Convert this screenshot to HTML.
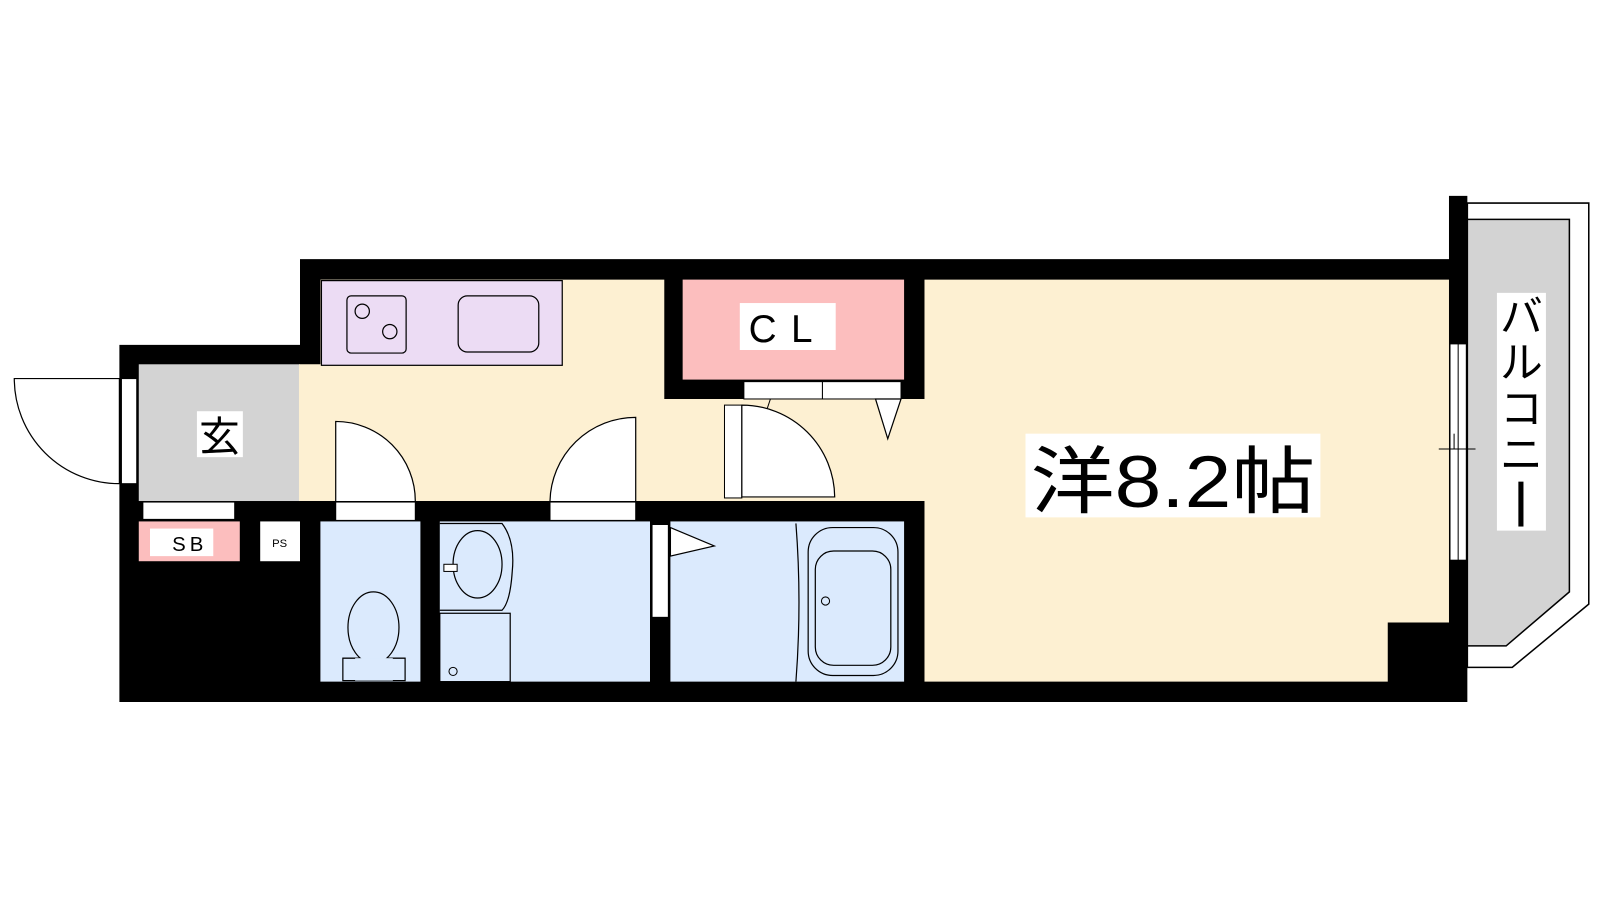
<!DOCTYPE html>
<html><head><meta charset="utf-8"><style>
html,body{margin:0;padding:0;background:#fff;}
svg{display:block}
text{font-family:"Liberation Sans","Noto Sans CJK JP",sans-serif;}
</style></head><body>
<svg width="1600" height="900" viewBox="0 0 1568 882" preserveAspectRatio="none" xmlns="http://www.w3.org/2000/svg">
<rect width="1568" height="882" fill="#fff"/>
<!-- balcony -->
<polygon points="1438,199 1557,199 1557,592 1482,654 1438,654" fill="#fff" stroke="#000" stroke-width="1.5"/>
<polygon points="1438,215 1538,215 1538,580 1476,633 1438,633" fill="#d3d3d3" stroke="#000" stroke-width="1.5"/>
<!-- walls -->
<polygon points="117,338 294,338 294,254 1420,254 1420,192 1438,192 1438,688 117,688" fill="#000"/>
<!-- genkan -->
<rect x="136" y="357" width="158" height="134" fill="#d3d3d3"/>
<!-- hallway / kitchen -->
<polygon points="293,357 314,357 314,274 651,274 651,391 907,391 907,491 293,491" fill="#fdf0d2"/>
<!-- CL -->
<rect x="669" y="274" width="217" height="98" fill="#fcbebe"/>
<rect x="729" y="374" width="77" height="17" fill="#fff" stroke="#000" stroke-width="1"/>
<rect x="806" y="374" width="77" height="17" fill="#fff" stroke="#000" stroke-width="1"/>
<polygon points="858,391 883,391 870,430" fill="#fff" stroke="#000" stroke-width="1.2"/>
<!-- main room -->
<polygon points="906,274 1420,274 1420,610 1360,610 1360,668 906,668" fill="#fdf0d2"/>
<!-- window right -->
<rect x="1421" y="337" width="16" height="212" fill="#fff" stroke="#000" stroke-width="1"/>
<line x1="1429" y1="337" x2="1429" y2="549" stroke="#000" stroke-width="1"/>
<line x1="1410" y1="440" x2="1446" y2="440" stroke="#000" stroke-width="1"/>
<line x1="1425" y1="440" x2="1425" y2="425" stroke="#000"/>
<!-- kitchen counter -->
<rect x="315" y="275" width="236" height="83" fill="#ecdcf4" stroke="#000" stroke-width="1.2"/>
<rect x="340" y="290" width="58" height="56" rx="4" fill="none" stroke="#000" stroke-width="1.2"/>
<circle cx="355" cy="305" r="7" fill="none" stroke="#000" stroke-width="1.2"/>
<circle cx="382" cy="325" r="7" fill="none" stroke="#000" stroke-width="1.2"/>
<rect x="449" y="290" width="79" height="55" rx="9" fill="none" stroke="#000" stroke-width="1.2"/>
<!-- bathrooms -->
<rect x="314" y="511" width="98" height="157" fill="#dbeafd"/>
<rect x="431" y="511" width="206" height="157" fill="#dbeafd"/>
<rect x="657" y="511" width="229" height="157" fill="#dbeafd"/>
<!-- SB PS -->
<rect x="136" y="511" width="99" height="39" fill="#fcbebe"/>
<rect x="255" y="511" width="39" height="39" fill="#fff"/>
<rect x="140" y="492" width="90" height="17" fill="#fff" stroke="#000" stroke-width="1"/>
<!-- entrance door -->
<rect x="119" y="371" width="15" height="103" fill="#fff" stroke="#000" stroke-width="1"/>
<path d="M14,371 A103,103 0 0 0 117,474 L117,371 Z" fill="#fff" stroke="#000" stroke-width="1.2"/>
<!-- door openings in wall -->
<rect x="329" y="492" width="78" height="18" fill="#fff" stroke="#000" stroke-width="1"/>
<rect x="539" y="492" width="84" height="18" fill="#fff" stroke="#000" stroke-width="1"/>
<path d="M329,491 L329,413 A78,78 0 0 1 407,491" fill="#fff" stroke="#000" stroke-width="1.2"/>
<path d="M623,491 L623,409 A84,84 0 0 0 539,491" fill="#fff" stroke="#000" stroke-width="1.2"/>
<!-- corridor door -->
<rect x="710" y="397" width="17" height="91" fill="#fff" stroke="#000" stroke-width="1"/>
<path d="M727,487 L727,397 A91,91 0 0 1 818,487 Z" fill="#fff" stroke="#000" stroke-width="1.2"/>
<line x1="755" y1="391" x2="752" y2="400" stroke="#000"/>
<!-- toilet -->
<rect x="336" y="645" width="61" height="22" fill="none" stroke="#000" stroke-width="1.2"/>
<ellipse cx="366" cy="615" rx="25" ry="35" fill="#dbeafd" stroke="#000" stroke-width="1.2"/>
<rect x="348" y="645" width="37" height="22" fill="#dbeafd"/>
<path d="M336,645 H348 M385,645 H397" stroke="#000"/>
<!-- wash -->
<path d="M431,513 H492 Q505,530 502,560 Q500,590 492,598 H431" fill="none" stroke="#000" stroke-width="1.2"/>
<ellipse cx="468" cy="553" rx="24" ry="33" fill="none" stroke="#000" stroke-width="1.2"/>
<rect x="435" y="553" width="13" height="7" fill="#fff" stroke="#000"/>
<rect x="431" y="601" width="69" height="67" fill="none" stroke="#000" stroke-width="1.2"/>
<circle cx="444" cy="658" r="4" fill="none" stroke="#000"/>
<!-- bath door -->
<rect x="639" y="514" width="16" height="91" fill="#fff" stroke="#000" stroke-width="1"/>
<polygon points="657,517 700,535 657,545" fill="#fff" stroke="#000" stroke-width="1.2"/>
<!-- bath -->
<path d="M780,513 Q786,590 780,668" fill="none" stroke="#000" stroke-width="1.2"/>
<rect x="792" y="517" width="88" height="145" rx="24" fill="none" stroke="#000" stroke-width="1.2"/>
<rect x="799" y="540" width="74" height="112" rx="18" fill="none" stroke="#000" stroke-width="1.2"/>
<circle cx="809" cy="589" r="4" fill="none" stroke="#000"/>
<!-- labels -->
<rect x="193" y="403" width="45" height="45" fill="#fff"/>
<text x="215" y="442" font-size="40" text-anchor="middle">玄</text>
<rect x="147" y="518" width="62" height="27" fill="#fff"/>
<text x="186" y="540" font-size="20" text-anchor="middle" letter-spacing="4">SB</text>
<text x="274" y="536" font-size="11" text-anchor="middle">PS</text>
<rect x="725" y="297" width="94" height="46" fill="#fff"/>
<text x="772" y="335" font-size="38" text-anchor="middle" letter-spacing="14">CL</text>
<rect x="1005" y="425" width="289" height="82" fill="#fff"/>
<text x="1010" y="497" font-size="72" textLength="279" lengthAdjust="spacingAndGlyphs" font-family="'Noto Sans CJK JP',sans-serif">洋8.2帖</text>
<rect x="1467" y="287" width="48" height="233" fill="#fff"/>
<text x="1491" y="325" font-size="42" text-anchor="middle" font-family="'Noto Sans CJK JP',sans-serif">バ</text>
<text x="1491" y="370" font-size="42" text-anchor="middle" font-family="'Noto Sans CJK JP',sans-serif">ル</text>
<text x="1491" y="415" font-size="42" text-anchor="middle" font-family="'Noto Sans CJK JP',sans-serif">コ</text>
<text x="1491" y="460" font-size="42" text-anchor="middle" font-family="'Noto Sans CJK JP',sans-serif">ニ</text>
<rect x="1488" y="472" width="5" height="44" fill="#000"/>
</svg>
</body></html>
